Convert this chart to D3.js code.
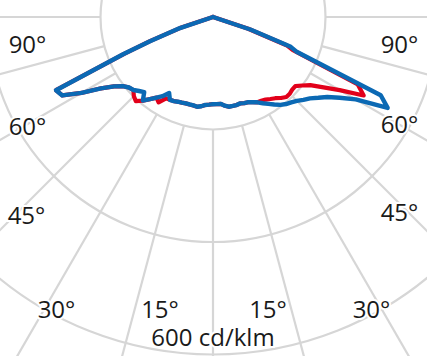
<!DOCTYPE html>
<html><head><meta charset="utf-8">
<script src="https://cdn.jsdelivr.net/npm/d3@7"></script>
<style>html,body{margin:0;padding:0;background:#fff;overflow:hidden}</style>
</head><body>
<svg id="chart" width="427" height="356"></svg>
<script>
// ---------- data ----------
const ringValues = [200, 400, 600, 800];                 // cd/klm
const spokeAngles = d3.range(-180, 180, 15);             // degrees from nadir
const tickLabels = ["90°", "60°", "45°", "30°", "15°"];
const unitLabel = "600 cd/klm";

// gamma angles (deg from nadir)
const gamma = [0,2.5,5,7.5,10,12.5,15,17.5,20,22.5,25,27.5,30,32.5,35,37.5,40,42.5,45,47.5,50,52.5,55,57.5,60,62.5,65,67.5,69,71.5,74,90];

// C90 (right) and C270 (left) plane, cd/klm
const c90Values  = [155,155,155,159,162,162,162,161,163,164,167,171,177,183,190,197,202,206,211,218,225,236,248,267,293,350,329,160,148,70,0,0];
const c270Values = [155,156,157,160,162,161,161,161,162,163,165,166,156,167,175,184,194,181,186,192,195,202,215,236,270,302,308,172,120,62,0,0];
// C0 (right) and C180 (left) plane, cd/klm
const c0Values   = [155,155,155,159,162,162,162,161,163,164,167,171,172,174,178,182,188,193,193,191,191,200,211,233,260,302,284,153,140,66,0,0];
const c180Values = [155,156,157,160,162,161,161,161,162,163,165,166,167,180,175,184,194,203,199,192,195,202,215,236,270,302,308,172,120,62,0,0];

// ---------- layout ----------
const cx = 213, cy = 17;
const svg = d3.select("#chart");
const r = d3.scaleLinear().domain([0, 600]).range([0, 337.5]);
const gridColor = "#d6d6d6";

const g = svg.append("g").attr("transform", `translate(${cx},${cy})`);

// rings
g.selectAll("circle.ring").data(ringValues).join("circle")
  .attr("class", "ring").attr("r", d => r(d))
  .attr("fill", "none").attr("stroke", gridColor).attr("stroke-width", 2.2);

// spokes (from first ring outward)
const rad = d => d * Math.PI / 180;
g.selectAll("line.spoke").data(spokeAngles).join("line")
  .attr("class", "spoke")
  .attr("x1", d => r(ringValues[0]) * Math.sin(rad(d)))
  .attr("y1", d => r(ringValues[0]) * Math.cos(rad(d)))
  .attr("x2", d => r(1400) * Math.sin(rad(d)))
  .attr("y2", d => r(1400) * Math.cos(rad(d)))
  .attr("stroke", gridColor).attr("stroke-width", 2.2);

// curves
function curvePoints(leftVals, rightVals) {
  const pts = [];
  for (let i = gamma.length - 1; i >= 1; i--) pts.push([Math.PI + rad(gamma[i]), r(leftVals[i])]);
  pts.push([Math.PI, r((leftVals[0] + rightVals[0]) / 2)]);
  for (let i = 1; i < gamma.length; i++) pts.push([Math.PI - rad(gamma[i]), r(rightVals[i])]);
  return pts;
}
const radial = d3.lineRadial().angle(d => d[0]).radius(d => d[1]).curve(d3.curveLinear);

g.append("path").attr("d", radial(curvePoints(c180Values, c0Values)))
  .attr("fill", "none").attr("stroke", "#e2001a").attr("stroke-width", 4.2)
  .attr("stroke-linejoin", "round").attr("stroke-linecap", "round");
g.append("path").attr("d", radial(curvePoints(c270Values, c90Values)))
  .attr("fill", "none").attr("stroke", "#0b69b4").attr("stroke-width", 4.4)
  .attr("stroke-linejoin", "round").attr("stroke-linecap", "round");

// labels
const leftPos  = [[-185.5, 52.5], [-185.5, 135], [-186.5, 224], [-156.5, 318], [-53, 318]];
const rightPos = [[186.5, 53], [186.5, 133], [186.5, 221], [158.5, 318], [55, 318]];
const labelG = svg.append("g")
  .attr("font-family", "'Open Sans', 'Noto Sans', sans-serif")
  .attr("font-size", 24).attr("fill", "#1a1a1a").attr("text-anchor", "middle");
[leftPos, rightPos].forEach(pos => {
  labelG.append("g").selectAll("text").data(tickLabels).join("text")
    .attr("x", (d, i) => cx + pos[i][0])
    .attr("y", (d, i) => pos[i][1])
    .attr("stroke", "#fff").attr("stroke-width", 4).attr("paint-order", "stroke")
    .text(d => d);
});
labelG.append("text").attr("x", cx).attr("y", 346)
  .attr("stroke", "#fff").attr("stroke-width", 4).attr("paint-order", "stroke")
  .text(unitLabel);
</script>
</body></html>
